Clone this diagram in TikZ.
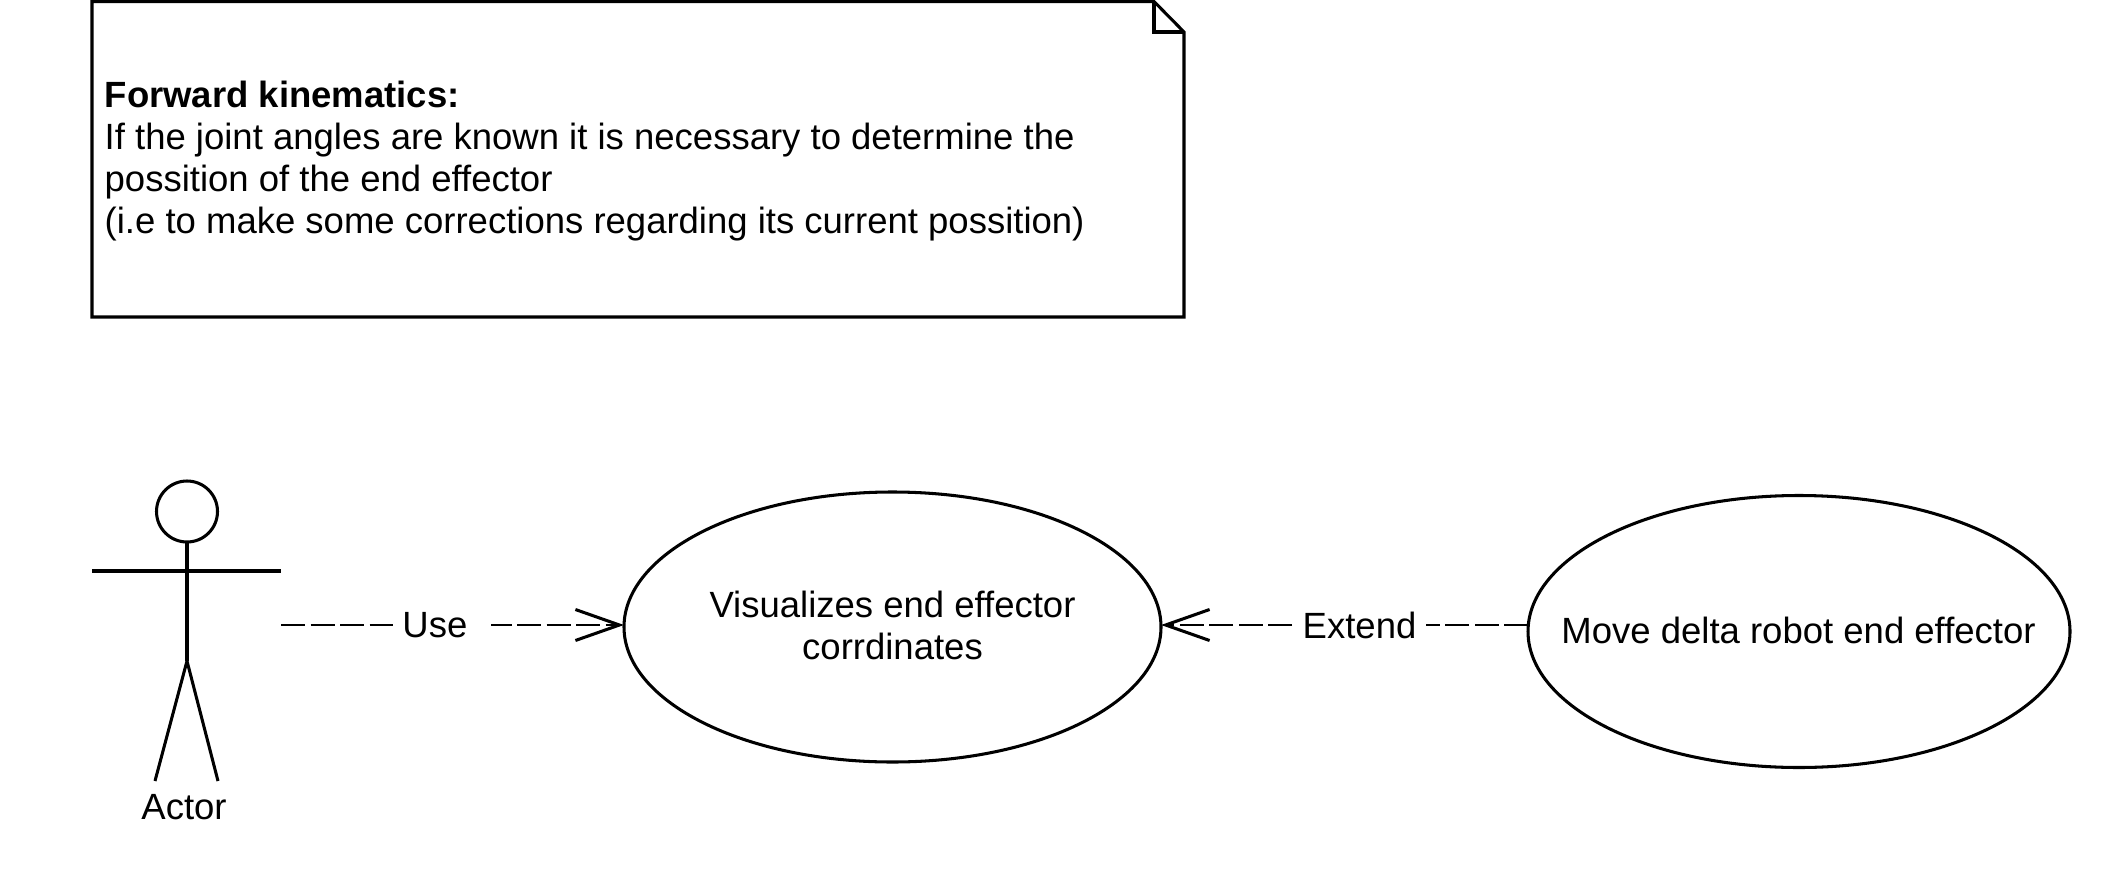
\documentclass[tikz,border=0pt]{standalone}
\usepackage{fontspec}
\setmainfont{Liberation Sans}
\usetikzlibrary{shapes.geometric,arrows.meta}
\newcommand{\diagfont}{\fontsize{36.5}{42}\selectfont}
\tikzset{
  x=1pt,y=-1pt,
  ink/.style={line width=3.05pt,black,line join=miter},
  usecase/.style={ellipse,draw,ink,inner sep=0pt,outer sep=0pt},
  uctext/.style={align=center,font=\diagfont,inner sep=0pt,outer sep=0pt},
  txt/.style={inner sep=0pt,outer sep=0pt,font=\diagfont,anchor=base},
  lbl/.style={fill=white,inner sep=0pt,outer sep=0pt,font=\diagfont,minimum height=30pt},
  dep/.style={black,line width=2.7pt,dash pattern=on 24pt off 5.5pt,-{Straight Barb[length=44pt,width=31pt,line width=3.05pt]}},
}
\begin{document}
\begin{tikzpicture}
\useasboundingbox (0,0) rectangle (2127,888);
% note
\draw[ink] (92,1.5) -- (1154,1.5) -- (1184,32) -- (1184,317) -- (92,317) -- cycle;
\draw[ink] (1154,1.5) -- (1154,32) -- (1184,32);
\node[font=\diagfont,align=left,anchor=base west,inner sep=0pt] (note) at (104.5,233)
  {\textbf{Forward kinematics:}\\If the joint angles are known it is necessary to determine the\\possition of the end effector\\(i.e to make some corrections regarding its current possition)};
% actor
\node[circle,draw,ink,inner sep=0pt,outer sep=0pt,minimum size=61pt] (head) at (187,511.5) {};
\coordinate (hip) at (187,661);
\coordinate (armL) at (92,571);
\coordinate (armR) at (281,571);
\coordinate (footL) at (155,781);
\coordinate (footR) at (218,781);
\draw[ink] (head.south) -- (hip);
\draw[ink] (armL) -- (armR);
\draw[ink] (footL) -- (hip) -- (footR);
\node[txt] (actor) at (184,819) {Actor};
% use cases
\node[usecase,minimum width=537pt,minimum height=270pt] (uc1) at (892.5,627) {};
\node[uctext] (uc1text) at (892.5,625.5) {Visualizes end effector\\corrdinates};
\node[usecase,minimum width=542pt,minimum height=272pt] (uc2) at (1799,631.5) {};
\node[uctext] (uc2text) at (1798.5,630) {Move delta robot end effector};
% connectors
\coordinate (src) at (281,625);
\draw[dep] (src) -- node[lbl,pos=0.469,minimum width=98pt] (use) {Use\kern14pt} (uc1.west |- src);
\draw[dep] (uc2.west |- src) -- node[lbl,pos=0.459,minimum width=133pt] (ext) {Extend} (uc1.east |- src);
\end{tikzpicture}
\end{document}
